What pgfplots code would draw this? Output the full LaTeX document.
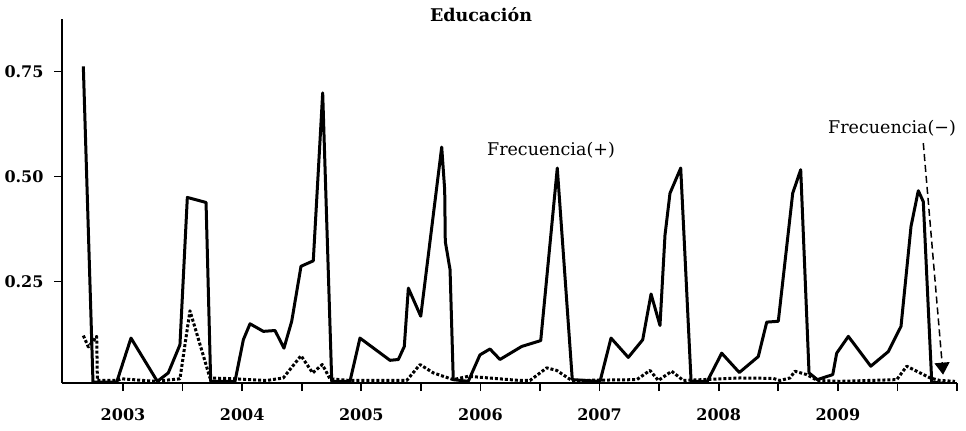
\documentclass[border=0pt]{standalone}
\usepackage{pgfplots}
\pgfplotsset{compat=1.18}
\usepackage{fontspec}
\setmainfont{DejaVu Serif}
\usetikzlibrary{arrows.meta}

\begin{document}
\begin{tikzpicture}[x=1bp,y=1bp]
\begin{axis}[
  at={(62bp,47bp)}, anchor=south west,
  scale only axis, width=895bp, height=364bp,
  xmin=2002.488, xmax=2010.0,
  ymin=0.008, ymax=0.875,
  axis lines=left, axis line style={-, line width=1.6bp, black},
  tick align=outside, major tick length=8bp,
  tick style={line width=1.6bp, black},
  xtick={2003,2003.5,...,2010},
  xticklabels={2003,,2004,,2005,,2006,,2007,,2008,,2009,,},
  ytick={0.25,0.5,0.75},
  yticklabels={0.25,0.50,0.75},
  tick label style={font=\bfseries\fontsize{16bp}{19bp}\selectfont},
  yticklabel style={xshift=-7bp},
  xticklabel style={yshift=-14bp},
  clip=true,
]
\addplot[black, line width=3bp, line join=round] coordinates {
(2002.667,0.762)
(2002.748,0.010)
(2002.947,0.010)
(2003.067,0.115)
(2003.288,0.012)
(2003.380,0.032)
(2003.478,0.099)
(2003.540,0.450)
(2003.697,0.438)
(2003.736,0.012)
(2003.940,0.012)
(2004.010,0.111)
(2004.066,0.149)
(2004.178,0.131)
(2004.276,0.133)
(2004.351,0.091)
(2004.416,0.155)
(2004.494,0.286)
(2004.597,0.299)
(2004.676,0.699)
(2004.752,0.012)
(2004.905,0.012)
(2004.989,0.115)
(2005.241,0.062)
(2005.311,0.064)
(2005.361,0.095)
(2005.395,0.234)
(2005.499,0.167)
(2005.675,0.570)
(2005.700,0.468)
(2005.705,0.345)
(2005.745,0.278)
(2005.772,0.016)
(2005.898,0.012)
(2005.996,0.075)
(2006.080,0.089)
(2006.164,0.064)
(2006.346,0.095)
(2006.506,0.109)
(2006.645,0.520)
(2006.771,0.016)
(2007.004,0.012)
(2007.096,0.115)
(2007.241,0.069)
(2007.362,0.111)
(2007.432,0.220)
(2007.507,0.145)
(2007.549,0.360)
(2007.591,0.460)
(2007.681,0.520)
(2007.768,0.012)
(2007.904,0.012)
(2008.025,0.079)
(2008.173,0.033)
(2008.332,0.071)
(2008.403,0.153)
(2008.500,0.155)
(2008.621,0.460)
(2008.688,0.516)
(2008.758,0.032)
(2008.828,0.016)
(2008.957,0.028)
(2008.990,0.079)
(2009.088,0.119)
(2009.276,0.048)
(2009.424,0.083)
(2009.530,0.143)
(2009.614,0.381)
(2009.675,0.466)
(2009.717,0.440)
(2009.788,0.010)
(2009.967,0.005)
};
\addplot[black, line width=3bp, dash pattern=on 3bp off 2bp, line join=round] coordinates {
(2002.667,0.121)
(2002.709,0.094)
(2002.779,0.119)
(2002.785,0.014)
(2002.947,0.014)
(2002.989,0.018)
(2003.269,0.012)
(2003.478,0.018)
(2003.562,0.180)
(2003.730,0.020)
(2003.940,0.018)
(2004.206,0.014)
(2004.345,0.020)
(2004.494,0.073)
(2004.592,0.032)
(2004.673,0.052)
(2004.737,0.018)
(2004.905,0.014)
(2005.381,0.014)
(2005.493,0.052)
(2005.605,0.032)
(2005.772,0.016)
(2005.898,0.024)
(2006.332,0.014)
(2006.416,0.014)
(2006.556,0.044)
(2006.640,0.038)
(2006.766,0.014)
(2007.312,0.016)
(2007.423,0.038)
(2007.493,0.014)
(2007.605,0.036)
(2007.703,0.014)
(2008.179,0.020)
(2008.458,0.019)
(2008.514,0.014)
(2008.598,0.020)
(2008.640,0.036)
(2008.739,0.028)
(2008.828,0.014)
(2009.018,0.012)
(2009.494,0.016)
(2009.578,0.048)
(2009.774,0.020)
(2009.857,0.014)
(2009.983,0.012)
};
\node[font=\fontsize{17.5bp}{20bp}\selectfont] at (axis cs:2006.592,0.5636) {Frecuencia(+)};
\node[font=\fontsize{17.5bp}{20bp}\selectfont] at (axis cs:2009.455,0.616) {Frecuencia(−)};
\draw[black, line width=1.5bp, dash pattern=on 7bp off 4bp, -{Triangle[width=15bp,length=12bp]}]
  (axis cs:2009.717,0.5795) -- (axis cs:2009.883,0.0279);
\end{axis}
\node[font=\bfseries\fontsize{17.5bp}{20bp}\selectfont, anchor=base] at (481,408) {Educación};
\pgfresetboundingbox
\useasboundingbox (0,0) rectangle (966,430);
\end{tikzpicture}
\end{document}
